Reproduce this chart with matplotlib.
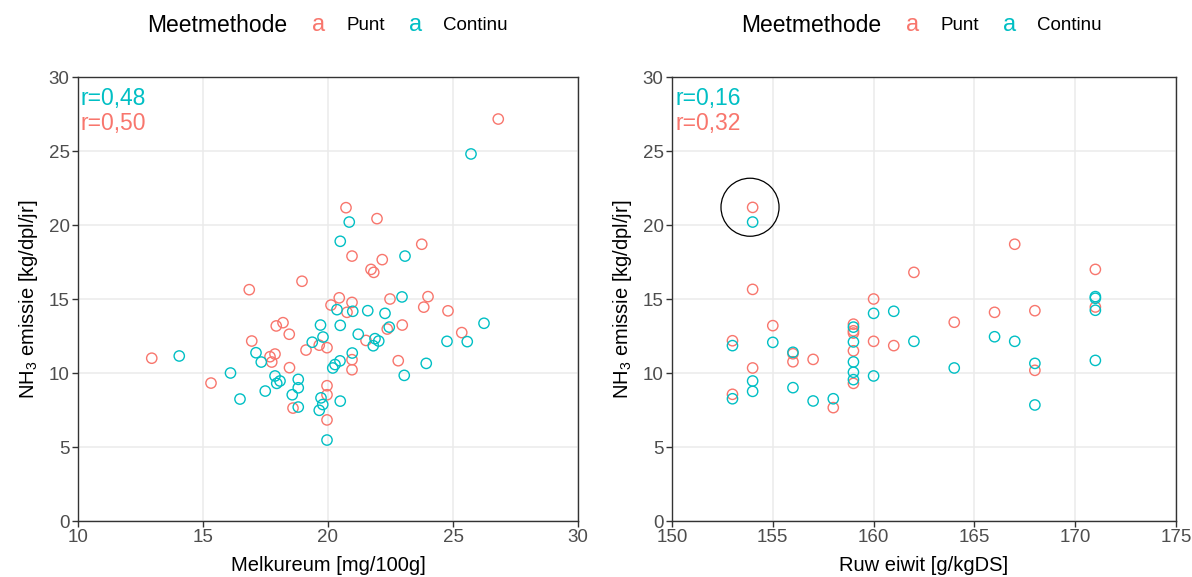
import matplotlib.pyplot as plt
from matplotlib.patches import Ellipse

plt.rcParams['font.family'] = ['Liberation Sans', 'DejaVu Sans']

PUNT = '#F8766D'
CONTINU = '#00BFC4'

# Melkureum (mg/100g) vs NH3 emissie (kg/dpl/jr)
ureum_punt = [12.95, 15.32, 16.85, 16.95, 17.68, 17.88, 17.75, 17.93, 18.2, 18.45,
              18.46, 18.6, 18.96, 19.12, 19.65, 19.96, 19.96, 19.96, 19.96, 20.12,
              20.45, 20.72, 20.76, 20.96, 20.96, 20.96, 20.96, 21.52, 21.72, 21.83,
              21.96, 22.17, 22.37, 22.48, 22.81, 22.97, 23.75, 23.83, 24.0, 24.8,
              25.35, 26.81]
nh3_ureum_punt = [11.0, 9.32, 15.63, 12.16, 11.1, 11.28, 10.74, 13.18, 13.4, 12.62,
                  10.36, 7.63, 16.2, 11.55, 11.88, 11.71, 9.14, 8.53, 6.83, 14.59,
                  15.08, 21.17, 14.1, 14.77, 17.9, 10.9, 10.22, 12.2, 17.0, 16.8,
                  20.43, 17.66, 12.97, 15.0, 10.83, 13.24, 18.7, 14.45, 15.16, 14.2,
                  12.73, 27.16]

ureum_continu = [14.05, 16.1, 16.48, 17.12, 17.33, 17.49, 17.88, 17.95, 18.08, 18.57,
                 18.81, 18.81, 18.81, 19.37, 19.7, 19.8, 19.72, 19.79, 19.65, 19.96,
                 20.19, 20.28, 20.48, 20.49, 20.36, 20.49, 20.49, 20.85, 20.97, 20.99,
                 21.21, 21.59, 21.81, 21.88, 22.03, 22.28, 22.45, 22.96, 23.05, 23.08,
                 23.93, 24.76, 25.57, 25.72, 26.24]
nh3_ureum_continu = [11.15, 10.0, 8.24, 11.37, 10.74, 8.78, 9.8, 9.3, 9.46, 8.53,
                     9.57, 9.0, 7.7, 12.08, 13.24, 12.43, 8.32, 7.87, 7.48, 5.47,
                     10.34, 10.57, 10.82, 8.1, 14.28, 13.22, 18.9, 20.2, 11.35, 14.17,
                     12.62, 14.21, 11.84, 12.32, 12.16, 14.03, 13.1, 15.14, 9.84, 17.9,
                     10.65, 12.14, 12.12, 24.8, 13.36]

# Ruw eiwit (g/kgDS) vs NH3 emissie (kg/dpl/jr)
eiwit_punt = [154, 154, 153, 155, 156, 156, 157, 154, 153, 158,
              159, 159, 159, 159, 159, 160, 160, 161, 162, 164,
              166, 167, 168, 168, 171, 171]
nh3_eiwit_punt = [21.19, 15.65, 12.18, 13.2, 11.3, 10.76, 10.92, 10.34, 8.56, 7.66,
                  13.3, 12.85, 12.7, 11.5, 9.3, 15.0, 12.14, 11.85, 16.8, 13.43,
                  14.1, 18.7, 14.21, 10.18, 17.0, 14.46]

eiwit_continu = [154, 153, 155, 156, 154, 154, 153, 156, 157, 158,
                 159, 159, 159, 159, 159, 160, 160, 161, 162, 164,
                 166, 167, 168, 168, 171, 171, 171, 171]
nh3_eiwit_continu = [20.2, 11.85, 12.07, 11.4, 9.46, 8.76, 8.26, 9.01, 8.11, 8.26,
                     13.1, 12.1, 10.75, 10.05, 9.55, 14.03, 9.8, 14.17, 12.14, 10.34,
                     12.45, 12.14, 10.65, 7.84, 15.16, 15.05, 14.24, 10.85]

r_ureum = ['r=0,48', 'r=0,50']
r_eiwit = ['r=0,16', 'r=0,32']

fig = plt.figure(figsize=(11.92, 5.77), dpi=100)
ax1 = fig.add_axes([78 / 1192, 1 - 521 / 577, 500 / 1192, 444 / 577])
ax2 = fig.add_axes([672 / 1192, 1 - 521 / 577, 504 / 1192, 444 / 577])


def style_panel(ax, xlim, xticks, xlabel, r_labels):
    ax.set_xlim(*xlim)
    ax.set_ylim(0, 30)
    ax.set_xticks(xticks)
    ax.set_yticks(range(0, 31, 5))
    ax.grid(True, color='#EBEBEB', linewidth=1.1)
    ax.set_axisbelow(True)
    for s in ax.spines.values():
        s.set_color('#333333')
        s.set_linewidth(1.0)
    ax.tick_params(colors='#333333', labelcolor='#4D4D4D', labelsize=13.5,
                   length=4, width=1, pad=2)
    ax.set_xlabel(xlabel, fontsize=14.5, labelpad=7)
    ax.set_ylabel(r'NH$\mathregular{_3}$ emissie [kg/dpl/jr]', fontsize=14.5, labelpad=6)
    ax.text(0.006, 0.978, r_labels[0], transform=ax.transAxes, color=CONTINU,
            fontsize=16.5, ha='left', va='top')
    ax.text(0.006, 0.922, r_labels[1], transform=ax.transAxes, color=PUNT,
            fontsize=16.5, ha='left', va='top')


ax1.scatter(ureum_punt, nh3_ureum_punt, s=55, facecolors='none',
            edgecolors=PUNT, linewidths=1, zorder=3)
ax1.scatter(ureum_continu, nh3_ureum_continu, s=55, facecolors='none',
            edgecolors=CONTINU, linewidths=1, zorder=3)
style_panel(ax1, (10, 30), range(10, 31, 5), 'Melkureum [mg/100g]', r_ureum)

ax2.scatter(eiwit_punt, nh3_eiwit_punt, s=55, facecolors='none',
            edgecolors=PUNT, linewidths=1, zorder=3)
ax2.scatter(eiwit_continu, nh3_eiwit_continu, s=55, facecolors='none',
            edgecolors=CONTINU, linewidths=1, zorder=3)
ax2.add_patch(Ellipse((153.87, 21.2), 2.88, 3.92, fill=False,
                      edgecolor='black', linewidth=0.9, zorder=4))
style_panel(ax2, (150, 175), range(150, 176, 5), 'Ruw eiwit [g/kgDS]', r_eiwit)

# legend row above each panel
for ax in (ax1, ax2):
    x0 = ax.get_position().x0 * 1192
    y = 1 - 25 / 577
    fig.text((x0 + 69) / 1192, y, 'Meetmethode', fontsize=16.5, va='center')
    fig.text((x0 + 234) / 1192, y, 'a', fontsize=17, color=PUNT, va='center')
    fig.text((x0 + 269) / 1192, y, 'Punt', fontsize=13.5, va='center')
    fig.text((x0 + 331) / 1192, y, 'a', fontsize=17, color=CONTINU, va='center')
    fig.text((x0 + 365) / 1192, y, 'Continu', fontsize=13.5, va='center')

fig.savefig('out.png', dpi=100)
